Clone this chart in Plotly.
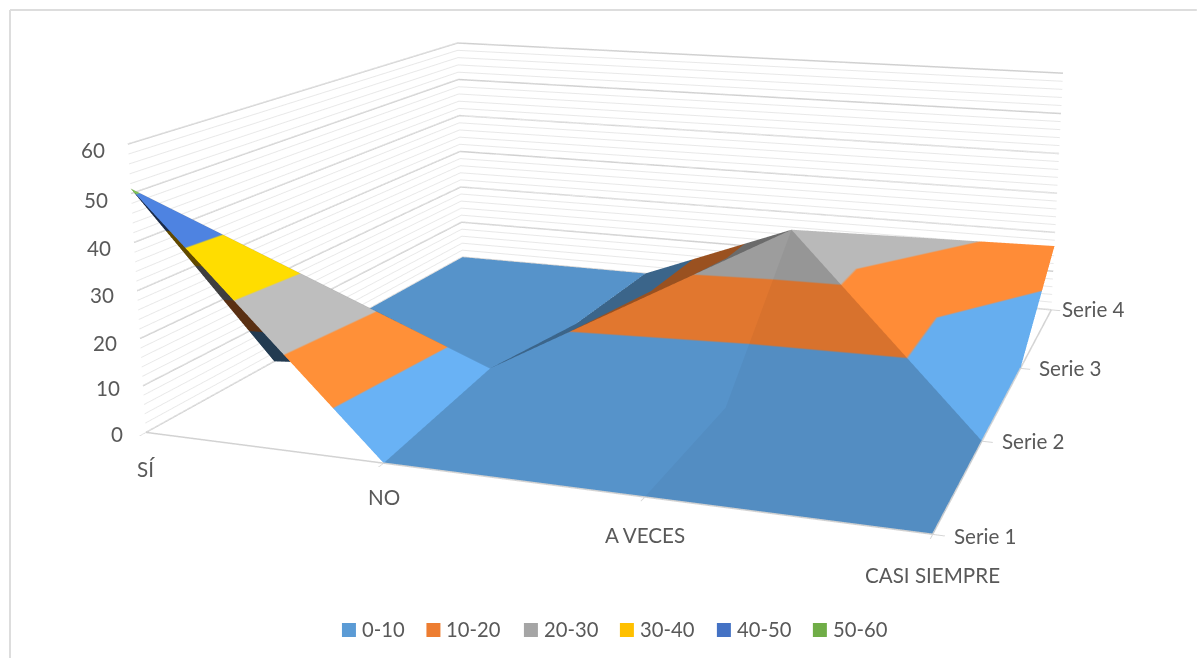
import plotly.graph_objects as go

categories = ["SÍ", "NO", "A VECES", "CASI SIEMPRE"]
series = ["Serie 1", "Serie 2", "Serie 3", "Serie 4"]
# one row per series, one value per category
serie_1 = [51, 0, 0, 0]
serie_2 = [0, 4, 1, 0]
serie_3 = [0, 0, 28, 0]
serie_4 = [0, 0, 0, 16.5]
band_labels = ["0-10", "10-20", "20-30", "30-40", "40-50", "50-60"]
band_colors = [(91, 155, 213), (237, 125, 49), (165, 165, 165), (255, 192, 0), (68, 114, 196), (112, 173, 71)]
z_ticks = [0, 10, 20, 30, 40, 50, 60]

W, H = 1197, 658
FIG_W, FIG_H, TOP = 1299.2, 1579.1, -575.05
FONT = "Lato"
TEXT = "#595959"
rows = [serie_1, serie_2, serie_3, serie_4]
xs = [i for j in range(4) for i in range(4)]
ys = [j for j in range(4) for i in range(4)]
zs = [rows[j][i] for j in range(4) for i in range(4)]


def v(i, j):
    return j * 4 + i


def scale(f):
    stops = []
    for n, c in enumerate(band_colors):
        col = "rgb(%d,%d,%d)" % tuple(min(255, round(a * f)) for a in c)
        stops += [[n / 6, col], [(n + 1) / 6, col]]
    return stops


# triangles of the surface, grouped by how much light each face gets
faces = {
    1.15: [(v(0, 0), v(1, 0), v(1, 1))],
    1.12: [(v(3, 1), v(3, 2), v(2, 2)), (v(2, 2), v(3, 2), v(3, 3))],
    0.95: [(v(1, 0), v(2, 0), v(2, 1)), (v(1, 0), v(1, 1), v(2, 1)),
           (v(1, 1), v(2, 1), v(2, 2)),
           (v(0, 2), v(0, 3), v(1, 3)), (v(0, 2), v(1, 2), v(1, 3)),
           (v(0, 1), v(1, 1), v(1, 2)), (v(0, 1), v(0, 2), v(1, 2)),
           (v(1, 1), v(0, 2), v(1, 2)), (v(0, 2), v(1, 1), v(0, 1))],
    0.91: [(v(2, 0), v(3, 0), v(3, 1)), (v(2, 0), v(2, 1), v(3, 1)), (v(2, 1), v(3, 1), v(2, 2))],
    0.65: [(v(1, 2), v(1, 3), v(2, 2)), (v(1, 3), v(2, 3), v(2, 2)),
           (v(2, 2), v(2, 3), v(3, 3)), (v(1, 1), v(1, 2), v(2, 2))],
    0.38: [(v(0, 0), v(0, 1), v(1, 1))],
}

fig = go.Figure()
for f, tris in faces.items():
    fig.add_trace(go.Mesh3d(
        x=xs, y=ys, z=zs, intensity=zs, i=[t[0] for t in tris], j=[t[1] for t in tris], k=[t[2] for t in tris],
        colorscale=scale(f), cmin=0, cmax=60, showscale=False, flatshading=True, hoverinfo="skip",
        lighting=dict(ambient=1, diffuse=0, specular=0, roughness=1, fresnel=0)))

# major gridlines on the two walls, plus the floor edges
gx, gy, gz = [], [], []
for t in z_ticks:
    gx += [0, 0, 3, None]
    gy += [0, 3, 3, None]
    gz += [t, t, t, None]
gx += [0, 3, 3, None]
gy += [0, 0, 3, None]
gz += [0, 0, 0, None]
fig.add_trace(go.Scatter3d(x=gx, y=gy, z=gz, mode="lines", line=dict(color="#d0d0d0", width=3), hoverinfo="skip", showlegend=False))

notes = []
x_shift = [37, 34, 38, 41]
y_dx = [19, 18, 17, 9]
y_dy = [-2, 0, 0, 1]
z_dy = [-2, -2, -4, -4, -6, -6, -6]
LABEL = dict(family=FONT, size=20.6, color=TEXT)
for i, c in enumerate(categories):
    notes.append(dict(x=i, y=0, z=0, text=c, showarrow=False, xanchor="center", yanchor="middle", yshift=-x_shift[i], font=LABEL))
for j, s in enumerate(series):
    notes.append(dict(x=3, y=j, z=0, text=s, showarrow=False, xanchor="left", yanchor="middle", xshift=y_dx[j], yshift=y_dy[j], font=LABEL))
for t, dy in zip(z_ticks, z_dy):
    notes.append(dict(x=0, y=0, z=t, text=str(t), showarrow=False, xanchor="right", yanchor="middle", xshift=-21, yshift=dy, font=LABEL))


def px(x):
    return x / FIG_W


def py(y):
    return 1 - (y - TOP) / FIG_H


axis_common = dict(showgrid=False, zeroline=False, showbackground=False, showspikes=False, title=dict(text=""), showticklabels=False)
legend_x = [342, 426.5, 524, 620, 717, 813]
shapes = [dict(type="line", xref="paper", yref="paper", x0=px(10), x1=px(1197), y0=py(10), y1=py(10), line=dict(color="#dddddd", width=2)),
          dict(type="line", xref="paper", yref="paper", x0=px(10), x1=px(10), y0=py(10), y1=py(658), line=dict(color="#dddddd", width=2))]
paper_notes = []
for lx, lab, c in zip(legend_x, band_labels, band_colors):
    shapes.append(dict(type="rect", xref="paper", yref="paper", x0=px(lx), x1=px(lx + 14), y0=py(623), y1=py(637),
                       line=dict(width=0), fillcolor="rgb(%d,%d,%d)" % c))
    paper_notes.append(dict(xref="paper", yref="paper", x=px(lx + 18), y=py(629), text=lab, showarrow=False, xanchor="left", yanchor="middle",
                            font=dict(family=FONT, size=20.2, color=TEXT)))

fig.update_layout(
    width=FIG_W, height=FIG_H, margin=dict(l=0, r=0, t=0, b=0), paper_bgcolor="white", showlegend=False,
    shapes=shapes, annotations=paper_notes,
    scene=dict(
        aspectmode="manual", aspectratio=dict(x=1, y=0.9481, z=0.3699),
        camera=dict(eye=dict(x=0.8522, y=-2.4150, z=0.6235), center=dict(x=0.0106, y=-0.0117, z=0.0352), up=dict(x=0.0003, y=0.0009, z=1)),
        xaxis=dict(range=[0, 3], tickvals=[0, 1, 2, 3], ticks="outside", ticklen=8, tickwidth=2, tickcolor="#d4d4d4", showline=True, linecolor="#d9d9d9", linewidth=2, **axis_common),
        yaxis=dict(range=[0, 3], tickvals=[0, 1, 2, 3], ticks="outside", ticklen=8, tickwidth=2, tickcolor="#d4d4d4", showline=True, linecolor="#d9d9d9", linewidth=2, **axis_common),
        zaxis=dict(range=[-0.02, 60], tickmode="linear", tick0=0, dtick=2, ticks="", **dict(axis_common, showgrid=True), gridcolor="#e8e8e8", gridwidth=2),
        annotations=notes),
)
fig.write_html("out.html", config=dict(displayModeBar=False),
               post_script="document.documentElement.style.overflow='hidden';document.body.style.overflow='hidden';document.body.style.margin='0';"
                           "var g=document.querySelector('.plotly-graph-div');g.style.position='absolute';g.style.left='0px';g.style.top='%spx';" % TOP)
